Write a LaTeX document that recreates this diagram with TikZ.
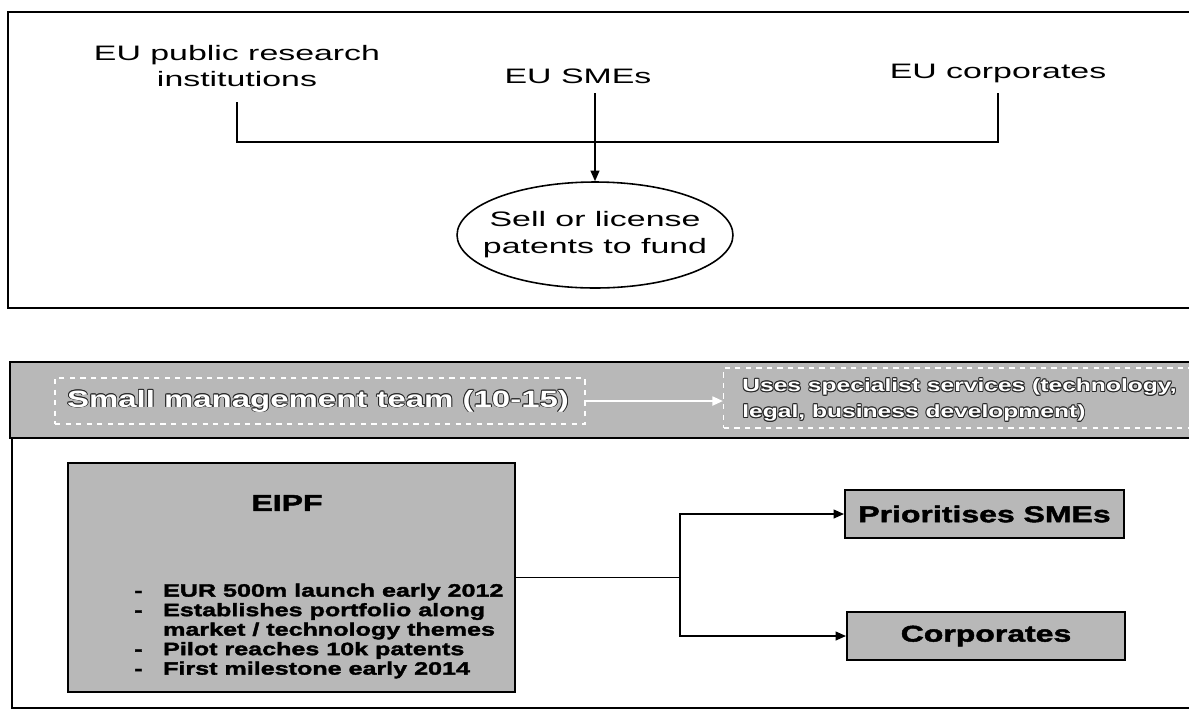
\documentclass[tikz,border=0pt]{standalone}
\usepackage{fontspec}
\setmainfont{Liberation Sans}
\newfontfamily\topfont[FakeStretch=1.62]{Liberation Sans}
\newfontfamily\lowfont[FakeStretch=1.4,BoldFeatures={FakeBold=2}]{Liberation Sans}
\newfontfamily\bandfont[FakeStretch=1.4]{Liberation Sans}
\usetikzlibrary{arrows.meta,shapes.geometric}
\newcommand\embnode[4]{% name, style, position, text
  \foreach \dx/\dy in {-0.5/0,0.5/0,0/0.5,0/-0.5,-0.4/-0.4,0.4/0.4,-0.4/0.4,0.4/-0.4}{%
    \node[#2,text=black!85] at ([xshift=\dx pt,yshift=\dy pt]#3) {#4};}
  \node[#2,text=white] (#1) at (#3) {#4};}
\tikzset{
  frame/.style={draw=black, line width=1.4pt},
  conn/.style={draw=black, line width=0.9pt},
  arr/.style={conn, -{Triangle[length=6pt,width=5pt]}},
  lowarr/.style={draw=black, line width=1.1pt, -{Triangle[length=6pt,width=5pt]}},
  toptxt/.style={font=\topfont\fontsize{11.9}{15.3}\selectfont, align=center, inner sep=0pt},
  lowbox/.style={draw=black, line width=1.1pt, fill=black!28, inner sep=0pt,
    font=\lowfont\bfseries\fontsize{13}{15}\selectfont},
  lowtxt/.style={inner sep=0pt, font=\lowfont\bfseries\fontsize{10.2}{11.1}\selectfont, align=left},
  bandbox/.style={draw=white, dashed, line width=0.8pt, inner sep=0pt},
  bandtxt/.style={inner sep=0pt, font=\bandfont\bfseries\fontsize{13.4}{16}\selectfont},
  bandtxtb/.style={inner sep=0pt, anchor=west, font=\bandfont\bfseries\fontsize{10}{14.7}\selectfont, align=left}
}
\begin{document}
\begin{tikzpicture}[x=0.02cm,y=-0.02cm]
\useasboundingbox (0,0) rectangle (1189,718);
% ---------- top frame ----------
\draw[frame] (1210,12) -- (8,12) -- (8,308) -- (1210,308);
\node[toptxt] (pri) at (237,66) {EU public research\\institutions};
\node[toptxt] (sme) at (578,76) {EU SMEs};
\node[toptxt] (corp) at (998,73) {EU corporates};
\node[ellipse, conn, minimum width=5.52cm, minimum height=2.12cm, inner sep=0pt] (sell) at (595,235) {};
\node[toptxt] (sellt) at (sell) {Sell or license\\patents to fund};
\coordinate (busY) at (0,142);
\coordinate (topL) at (0,102);
\coordinate (topR) at (0,93);
\draw[conn] (pri.south |- topL) -- (pri.south |- busY) -| (corp.south |- topR);
\draw[arr] (sell.north |- topR) -- (sell.north);
% ---------- lower section ----------
\path[frame, fill=black!28] (10,362) rectangle (1210,438);
\draw[frame] (12,438) -- (12,708) -- (1210,708);
\node[bandbox, minimum width=10.6cm, minimum height=0.92cm] (smt) at (320,401) {};
\coordinate (smtc) at (318,401);
\embnode{smtt}{bandtxt}{smtc}{Small management team (10-15)}
\node[bandbox, anchor=west, minimum width=9.9cm, minimum height=1.2cm] (uses) at (723,398) {};
\coordinate (usesc) at (742,400);
\embnode{usest}{bandtxtb}{usesc}{Uses specialist services (technology,\\legal, business development)}
\draw[white, line width=1.3pt, -{Triangle[length=6pt,width=5pt]}] (smt.east) -- (smt.east -| uses.west);
% EIPF box
\node[lowbox, minimum width=8.94cm, minimum height=4.58cm] (eipf) at (291.5,577.5) {};
\node[lowbox, draw=none, fill=none] (eipft) at (287,503) {EIPF};
\node[lowtxt, anchor=west] (eipfl) at (134,631) {%
\makebox[16.4pt][l]{-}EUR 500m launch early 2012\\
\makebox[16.4pt][l]{-}Establishes portfolio along\\
\hspace*{16.4pt}market / technology themes\\
\makebox[16.4pt][l]{-}Pilot reaches 10k patents\\
\makebox[16.4pt][l]{-}First milestone early 2014};
\node[lowbox, minimum width=5.58cm, minimum height=0.96cm] (prio) at (984.5,514) {Prioritises SMEs};
\node[lowbox, minimum width=5.56cm, minimum height=0.96cm] (corp2) at (986,636) {Corporates};
\coordinate (split) at (680,0);
\draw[draw=black, line width=1.1pt] (eipf.east) -- (eipf.east -| split);
\draw[lowarr] (eipf.east -| split) |- (prio.west);
\draw[lowarr] (eipf.east -| split) |- (corp2.west);
\end{tikzpicture}
\end{document}
